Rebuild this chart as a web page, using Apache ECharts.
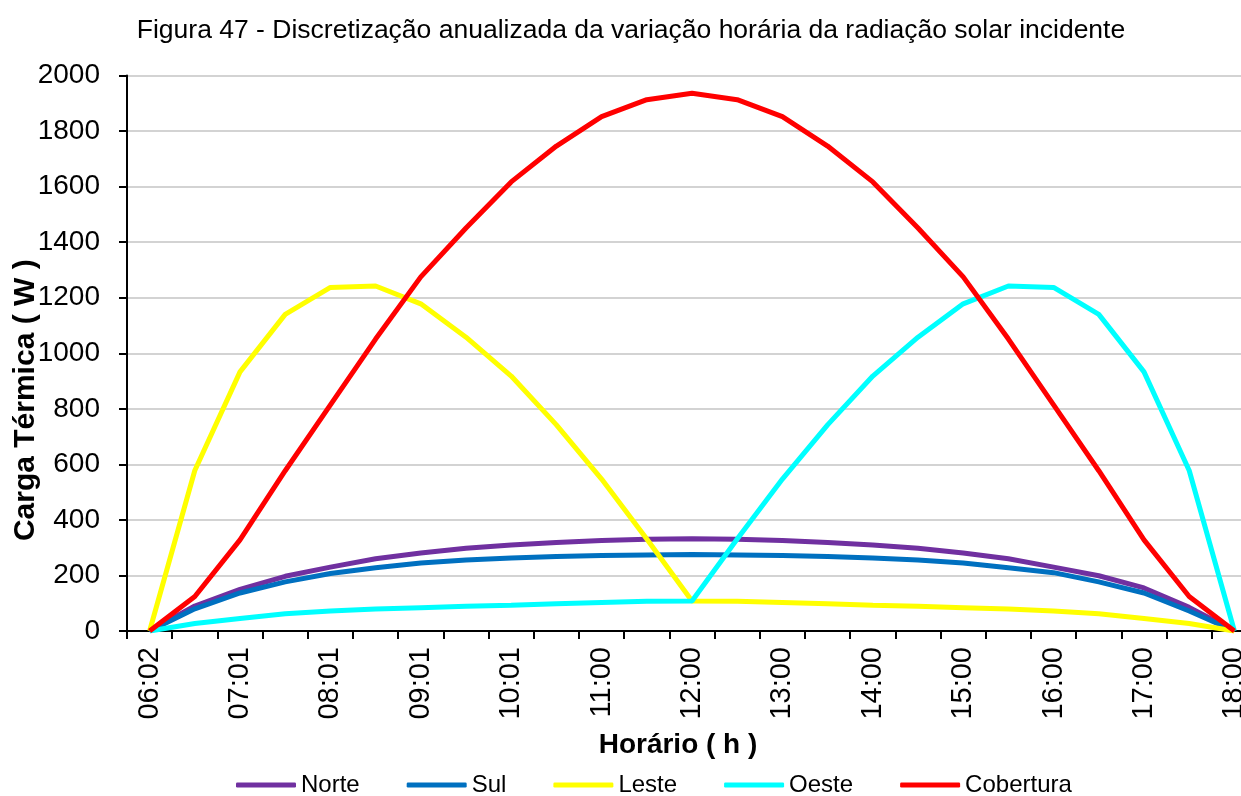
<!DOCTYPE html>
<html>
<head>
<meta charset="utf-8">
<script src="https://cdn.jsdelivr.net/npm/echarts@6/dist/echarts.min.js"></script>
<style>
  html, body { margin: 0; padding: 0; background: #fff; }
  #chart { width: 1241px; height: 796px; }
</style>
</head>
<body>
<div id="chart"></div>
<script>
// horarios (a cada ~30 min)
var horarios = ['06:02', '06:31', '07:01', '07:31', '08:01', '08:31', '09:01', '09:31', '10:01', '10:30',
  '11:00', '11:30', '12:00', '12:30', '13:00', '13:30', '14:00', '14:30', '15:00', '15:30',
  '16:00', '16:30', '17:00', '17:30', '18:00'];

var norte = [0, 90, 150, 197, 230, 260, 281, 298, 310, 319, 326, 330, 332, 330, 326, 319, 310, 298, 281, 260, 230, 199, 155, 85, 0];
var sul = [0, 80, 137, 177, 207, 228, 245, 256, 263, 268, 272, 274, 275, 274, 272, 268, 263, 256, 245, 228, 210, 177, 137, 72, 0];
var leste = [0, 578, 933, 1140, 1237, 1242, 1178, 1058, 918, 742, 547, 331, 108, 107, 103, 98, 93, 89, 84, 79, 72, 62, 45, 27, 0];
var oeste = [0, 27, 45, 62, 72, 79, 84, 89, 93, 98, 103, 107, 108, 331, 547, 742, 918, 1058, 1178, 1242, 1237, 1140, 933, 578, 0];
var cobertura = [0, 124, 328, 577, 814, 1051, 1275, 1451, 1617, 1746, 1852, 1913, 1936, 1913, 1852, 1746, 1617, 1451, 1275, 1051, 814, 577, 328, 124, 0];

var fonte = "Arial, 'Liberation Sans', sans-serif";

var chart = echarts.init(document.getElementById('chart'));

function serie(nome, dados, cor) {
  return {
    name: nome,
    type: 'line',
    data: dados,
    symbol: 'none',
    lineStyle: { color: cor, width: 5 },
    itemStyle: { color: cor },
    emphasis: { disabled: true }
  };
}

chart.setOption({
  animation: false,
  title: {
    text: 'Figura 47 - Discretização anualizada da variação horária da radiação solar incidente',
    left: 626,
    top: 12,
    textAlign: 'center',
    textStyle: { fontFamily: fonte, fontSize: 26.5, fontWeight: 'normal', color: '#000' }
  },
  legend: {
    top: 768,
    left: 231,
    icon: 'roundRect',
    itemWidth: 60,
    itemHeight: 5,
    itemGap: 47,
    textStyle: { fontFamily: fonte, fontSize: 24, color: '#000' },
    data: ['Norte', 'Sul', 'Leste', 'Oeste', 'Cobertura']
  },
  grid: {
    left: 127,
    top: 75.5,
    width: 1130,
    bottom: 165,
    outerBoundsMode: 'none',
    containLabel: false
  },
  xAxis: {
    type: 'category',
    data: horarios,
    boundaryGap: true,
    name: 'Horário ( h )',
    nameLocation: 'middle',
    nameGap: 100,
    nameMoveOverlap: false,
    nameTextStyle: { fontFamily: fonte, fontSize: 28, fontWeight: 'bold', color: '#000', padding: [0, 28, 0, 0] },
    axisLine: { lineStyle: { color: '#000', width: 2 } },
    axisTick: { show: true, interval: 0, length: 8, lineStyle: { color: '#000', width: 2 } },
    axisLabel: { interval: 1, rotate: 90, margin: 16, fontFamily: fonte, fontSize: 29, color: '#000' },
    splitLine: { show: false }
  },
  yAxis: {
    type: 'value',
    min: 0,
    max: 2000,
    interval: 200,
    name: 'Carga Térmica ( W )',
    nameLocation: 'middle',
    nameGap: 86,
    nameMoveOverlap: false,
    nameTextStyle: { fontFamily: fonte, fontSize: 30, fontWeight: 'bold', color: '#000', padding: [0, 94, 0, 0] },
    axisLine: { show: true, lineStyle: { color: '#000', width: 2 } },
    axisTick: { show: true, length: 8, lineStyle: { color: '#000', width: 2 } },
    axisLabel: {
      margin: 27, fontFamily: fonte, fontSize: 28, color: '#000',
      formatter: function (v) { return String(v); }
    },
    splitLine: { lineStyle: { color: '#c4c4c4', width: 1.5 } }
  },
  series: [
    serie('Norte', norte, '#7030a0'),
    serie('Sul', sul, '#0070c0'),
    serie('Leste', leste, '#ffff00'),
    serie('Oeste', oeste, '#00ffff'),
    serie('Cobertura', cobertura, '#ff0000')
  ]
});
</script>
</body>
</html>
